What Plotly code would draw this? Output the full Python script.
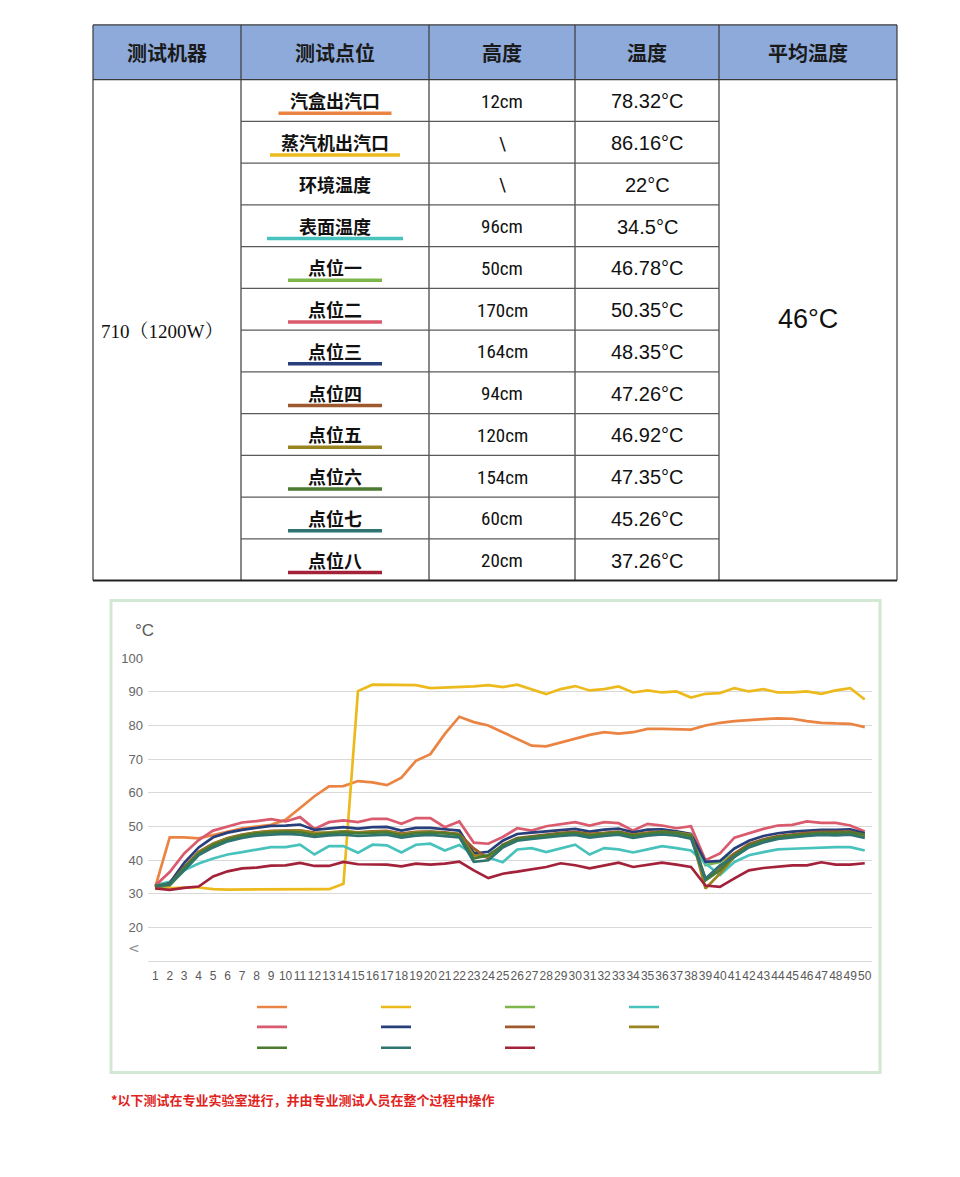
import plotly.graph_objects as go

W, H = 960, 1177

# ---------------- table data ----------------
header = ["测试机器", "测试点位", "高度", "温度", "平均温度"]
machine = "710（1200W）"
points = ["汽盒出汽口", "蒸汽机出汽口", "环境温度", "表面温度", "点位一", "点位二",
          "点位三", "点位四", "点位五", "点位六", "点位七", "点位八"]
heights = ["12cm", "\\", "\\", "96cm", "50cm", "170cm", "164cm", "94cm",
           "120cm", "154cm", "60cm", "20cm"]
temps = ["78.32°C", "86.16°C", "22°C", "34.5°C", "46.78°C", "50.35°C",
         "48.35°C", "47.26°C", "46.92°C", "47.35°C", "45.26°C", "37.26°C"]
avg_temp = "46°C"
footnote = "*以下测试在专业实验室进行，并由专业测试人员在整个过程中操作"

# ---------------- chart data ----------------
x_labels = [str(i) for i in range(1, 51)]
y_ticks = [10, 20, 30, 40, 50, 60, 70, 80, 90, 100]
y_ticktext = ["", "20", "30", "40", "50", "60", "70", "80", "90", "100"]

box_outlet = [32.0, 46.8, 46.8, 46.5, 47.5, 48.5, 49.5, 50.0, 50.5, 52.0,
              55.5, 59.0, 61.9, 62.0, 63.5, 63.1, 62.3, 64.5, 69.5, 71.5,
              77.5, 82.6, 81.0, 80.0, 78.0, 75.9, 74.0, 73.8, 75.0, 76.0,
              77.2, 78.0, 77.6, 78.0, 79.0, 79.0, 78.9, 78.8, 80.0, 80.8,
              81.3, 81.7, 81.9, 82.1, 82.0, 81.3, 80.8, 80.6, 80.5, 79.5]
engine_outlet = [31.5, 31.8, 31.9, 31.9, 31.4, 31.3, 31.3, 31.3, 31.3, 31.3,
                 31.3, 31.3, 31.4, 33.0, 90.2, 92.1, 92.1, 92.0, 92.0, 91.1,
                 91.2, 91.5, 91.6, 92.0, 91.4, 92.1, 90.8, 89.3, 90.8, 91.7,
                 90.4, 90.8, 91.6, 89.8, 90.4, 89.8, 90.1, 88.3, 89.4, 89.6,
                 91.1, 90.1, 90.8, 89.8, 89.8, 90.1, 89.4, 90.4, 91.1, 87.7]
point1 = [31.8, 32.5, 37.0, 41.5, 44.2, 46.0, 47.0, 47.8, 48.2, 48.4,
          48.6, 48.0, 48.2, 48.6, 48.2, 48.4, 48.5, 47.8, 48.3, 48.4,
          48.2, 47.8, 42.5, 40.8, 44.0, 46.0, 46.7, 47.2, 47.6, 47.9,
          47.5, 47.7, 48.0, 47.4, 47.8, 48.2, 47.9, 47.0, 38.5, 39.5,
          42.0, 44.2, 45.6, 46.6, 47.1, 47.5, 47.8, 47.9, 48.0, 47.0]
surface = [32.6, 33.6, 37.0, 39.0, 40.5, 41.7, 42.4, 43.2, 43.9, 43.9,
           44.6, 41.7, 44.2, 44.2, 42.2, 44.6, 44.4, 42.3, 44.6, 44.9,
           42.9, 44.5, 41.6, 40.8, 39.4, 43.2, 43.6, 42.4, 43.6, 44.6,
           41.7, 43.6, 43.2, 42.3, 43.2, 44.2, 43.6, 42.9, 39.0, 35.6,
           39.5, 41.5, 42.4, 43.2, 43.4, 43.6, 43.9, 43.9, 43.9, 42.9]
point2 = [32.5, 36.5, 42.0, 46.0, 48.8, 50.0, 51.2, 51.6, 52.2, 51.5,
          52.8, 49.3, 51.3, 51.8, 51.3, 52.3, 52.3, 50.8, 52.5, 52.5,
          49.8, 51.5, 45.2, 44.9, 46.9, 49.5, 48.8, 50.1, 50.8, 51.3,
          50.3, 51.3, 51.0, 48.8, 50.8, 50.3, 49.5, 50.1, 40.0, 42.0,
          46.7, 48.1, 49.3, 50.3, 50.5, 51.5, 51.1, 51.1, 50.3, 48.5]
point3 = [32.0, 33.2, 39.2, 43.8, 46.8, 48.2, 49.0, 49.7, 50.2, 50.3,
          50.6, 49.0, 49.4, 49.8, 49.4, 49.8, 49.9, 48.8, 49.6, 49.6,
          49.2, 48.8, 42.0, 42.5, 45.8, 47.8, 48.2, 48.6, 49.0, 49.3,
          48.5, 49.1, 49.4, 48.3, 49.1, 49.2, 48.6, 47.8, 39.5, 39.8,
          43.5, 45.8, 47.2, 48.0, 48.5, 48.8, 49.0, 49.0, 49.2, 48.0]
point4 = [32.0, 32.8, 38.0, 42.5, 45.0, 46.6, 47.6, 48.3, 48.7, 48.8,
          48.9, 48.2, 47.8, 48.6, 48.3, 48.6, 48.7, 47.9, 48.4, 48.5,
          48.3, 47.8, 43.5, 40.5, 44.6, 46.6, 47.1, 47.7, 48.1, 48.4,
          47.8, 48.1, 48.5, 47.6, 48.2, 48.5, 48.2, 47.5, 34.5, 38.0,
          42.0, 44.8, 46.2, 47.2, 47.7, 48.1, 48.4, 48.4, 48.5, 47.5]
point5 = [32.2, 32.6, 37.5, 42.2, 44.8, 46.4, 47.5, 48.2, 48.6, 48.7,
          48.8, 48.0, 48.2, 48.5, 48.2, 48.4, 48.6, 47.7, 48.3, 48.4,
          48.1, 47.6, 41.5, 41.0, 44.2, 46.2, 46.8, 47.4, 47.8, 48.0,
          47.6, 47.9, 48.2, 47.5, 48.0, 48.4, 48.2, 47.6, 31.6, 36.0,
          41.0, 44.0, 45.6, 46.8, 47.3, 47.7, 48.0, 48.0, 48.2, 47.2]
point6 = [32.5, 33.0, 37.8, 42.0, 44.5, 46.2, 47.3, 48.0, 48.3, 48.5,
          48.3, 47.5, 48.0, 48.3, 48.0, 48.2, 48.3, 47.4, 48.0, 48.2,
          48.0, 47.5, 40.5, 41.5, 44.4, 46.4, 46.9, 47.4, 47.8, 48.1,
          47.4, 47.8, 48.3, 47.3, 47.9, 48.4, 48.1, 47.2, 34.0, 37.0,
          41.5, 44.4, 45.9, 46.9, 47.4, 47.8, 48.1, 48.1, 48.3, 47.6]
point7 = [32.3, 32.8, 37.0, 41.5, 43.8, 45.6, 46.6, 47.3, 47.6, 47.8,
          47.6, 46.9, 47.4, 47.6, 47.2, 47.5, 47.6, 46.7, 47.3, 47.5,
          47.2, 46.8, 39.5, 40.0, 43.8, 45.8, 46.3, 46.8, 47.2, 47.5,
          46.7, 47.2, 47.6, 46.6, 47.3, 47.7, 47.3, 46.4, 34.5, 38.5,
          41.0, 43.8, 45.3, 46.3, 46.8, 47.2, 47.5, 47.4, 47.6, 46.6]
point8 = [31.6, 31.2, 31.8, 32.2, 35.2, 36.7, 37.6, 37.8, 38.4, 38.5,
          39.2, 38.3, 38.3, 39.5, 38.8, 38.8, 38.7, 38.2, 39.0, 38.7,
          39.0, 39.6, 37.0, 34.7, 36.0, 36.6, 37.3, 38.0, 39.1, 38.5,
          37.6, 38.5, 39.3, 38.0, 38.7, 39.3, 38.7, 38.0, 32.5, 32.1,
          34.6, 37.0, 37.7, 38.0, 38.5, 38.5, 39.4, 38.7, 38.7, 39.1]

# series in drawing / legend order (legend rows of 4, 4, 3)
series_names = ["汽盒出汽口", "蒸汽机出汽口", "点位一", "表面温度",
                "点位二", "点位三", "点位四", "点位五",
                "点位六", "点位七", "点位八"]
series_values = [box_outlet, engine_outlet, point1, surface,
                 point2, point3, point4, point5,
                 point6, point7, point8]
series_colors = ["#EB8442", "#EDBA1E", "#7DB64A", "#48C2BC",
                 "#DA5A6E", "#273F7A", "#9E5A2E", "#9A8420",
                 "#4B7A31", "#2E7470", "#A3223A"]
legend_groups = ["legend"] * 4 + ["legend2"] * 4 + ["legend3"] * 3


def X(p):
    return p / W


def Y(p):
    return 1 - p / H


fig = go.Figure()

for name, vals, col, lg in zip(series_names, series_values, series_colors, legend_groups):
    fig.add_trace(go.Scatter(
        x=list(range(1, 51)), y=vals, mode="lines", name="",
        line=dict(color=col, width=2.7), legend=lg,
        hovertemplate=name + ": %{y}<extra></extra>",
    ))

shapes = []
annotations = []

# ---------------- table ----------------
col_x = [93, 241, 429, 575, 719, 897]
top, head_bottom = 18, 73
row_h = 42
row_y = [head_bottom + k * row_h for k in range(len(points) + 1)]
bottom = row_y[-1]
line_col = "#3A3A3A"

shapes.append(dict(type="rect", xref="paper", yref="paper",
                   x0=X(col_x[0]), x1=X(col_x[-1]), y0=Y(head_bottom), y1=Y(top),
                   fillcolor="#8EAADB", line=dict(width=0), layer="below"))
for cx in col_x:
    shapes.append(dict(type="line", xref="paper", yref="paper",
                       x0=X(cx), x1=X(cx), y0=Y(bottom), y1=Y(top),
                       line=dict(color=line_col, width=1.2)))
for yy in (top, head_bottom):
    shapes.append(dict(type="line", xref="paper", yref="paper",
                       x0=X(col_x[0]), x1=X(col_x[-1]), y0=Y(yy), y1=Y(yy),
                       line=dict(color=line_col, width=1.2)))
shapes.append(dict(type="line", xref="paper", yref="paper",
                   x0=X(col_x[0]), x1=X(col_x[-1]), y0=Y(bottom), y1=Y(bottom),
                   line=dict(color="#222222", width=2)))
for yy in row_y[1:-1]:
    shapes.append(dict(type="line", xref="paper", yref="paper",
                       x0=X(col_x[1]), x1=X(col_x[4]), y0=Y(yy), y1=Y(yy),
                       line=dict(color="#5A5A5A", width=1.2)))

cjk = "Noto Sans CJK SC"
for i, htxt in enumerate(header):
    cx = (col_x[i] + col_x[i + 1]) / 2
    annotations.append(dict(text="<b>" + htxt + "</b>", x=X(cx), y=Y((top + head_bottom) / 2),
                            font=dict(family=cjk, size=20, color="#1A1A1A")))

underline_len = {"汽盒出汽口": 113, "蒸汽机出汽口": 130, "表面温度": 136}
color_of = dict(zip(series_names, series_colors))
for r, name in enumerate(points):
    yc = (row_y[r] + row_y[r + 1]) / 2
    cx2 = (col_x[1] + col_x[2]) / 2
    cx3 = (col_x[2] + col_x[3]) / 2
    cx4 = (col_x[3] + col_x[4]) / 2
    has_line = name in color_of
    annotations.append(dict(text="<b>" + name + "</b>", x=X(cx2), y=Y(yc),
                            font=dict(family=cjk, size=18, color="#111111")))
    if has_line:
        half = underline_len.get(name, 94) / 2
        shapes.append(dict(type="line", xref="paper", yref="paper",
                           x0=X(cx2 - half), x1=X(cx2 + half), y0=Y(yc + 13), y1=Y(yc + 13),
                           line=dict(color=color_of[name], width=3.5)))
    annotations.append(dict(text=heights[r], x=X(cx3), y=Y(yc + 1),
                            font=dict(family="Liberation Sans Narrow, Roboto Condensed, Liberation Sans, " + cjk,
                                      size=19, color="#111111")))
    annotations.append(dict(text=temps[r], x=X(cx4), y=Y(yc + 1),
                            font=dict(family="Liberation Sans, " + cjk, size=20, color="#111111")))

annotations.append(dict(text=machine, x=X((col_x[0] + col_x[1]) / 2 - 5), y=Y(326),
                        font=dict(family="Liberation Serif, Noto Serif CJK SC, " + cjk, size=19, color="#111111")))
annotations.append(dict(text=avg_temp, x=X((col_x[4] + col_x[5]) / 2), y=Y(314),
                        font=dict(family="Liberation Sans, Arial", size=27, color="#111111")))

# ---------------- chart frame ----------------
shapes.append(dict(type="rect", xref="paper", yref="paper",
                   x0=X(111), x1=X(880), y0=Y(1072), y1=Y(597),
                   line=dict(color="#D3E8D3", width=3), fillcolor="rgba(0,0,0,0)", layer="below"))
annotations.append(dict(text="°C", x=X(133), y=Y(627), xanchor="left",
                        font=dict(family="Liberation Sans, Arial", size=17, color="#595959")))
annotations.append(dict(text="<", x=X(134), y=Y(947),
                        font=dict(family="DejaVu Sans", size=14, color="#8C8C8C")))
annotations.append(dict(text="<b>" + footnote + "</b>", x=X(109), y=Y(1099), xanchor="left",
                        font=dict(family=cjk, size=13, color="#E0231C")))

for a in annotations:
    a.setdefault("xref", "paper")
    a.setdefault("yref", "paper")
    a.setdefault("showarrow", False)
    a.setdefault("xanchor", "center")
    a.setdefault("yanchor", "middle")

x_tick_font = dict(family="Liberation Sans, Arial", size=12, color="#595959")
y_tick_font = dict(family="Liberation Sans, Arial", size=13, color="#666666")
leg_common = dict(orientation="h", xanchor="left", yanchor="middle",
                  entrywidth=79, entrywidthmode="pixels", itemwidth=30,
                  bgcolor="rgba(0,0,0,0)", borderwidth=0, font=dict(size=10),
                  traceorder="normal", itemclick=False, itemdoubleclick=False)

fig.update_layout(
    width=W, height=H,
    margin=dict(l=0, r=0, t=0, b=0),
    paper_bgcolor="white", plot_bgcolor="white",
    showlegend=True,
    xaxis=dict(domain=[X(148), X(872)], range=[0.5, 50.5], tickmode="array",
               tickvals=list(range(1, 51)), ticktext=x_labels, tickangle=0,
               tickfont=x_tick_font, showgrid=False, showline=True, linecolor="#D9D9D9",
               zeroline=False, ticks="", ticklabelstandoff=3, fixedrange=True),
    yaxis=dict(domain=[Y(960), Y(655)], range=[10, 100], tickmode="array",
               tickvals=y_ticks, ticktext=y_ticktext, tickfont=y_tick_font,
               showgrid=True, gridcolor="#D9D9D9", gridwidth=1, zeroline=False,
               ticks="", showline=False, ticklabelstandoff=4, fixedrange=True),
    legend=dict(x=X(252), y=Y(1006), **leg_common),
    legend2=dict(x=X(252), y=Y(1026), **leg_common),
    legend3=dict(x=X(252), y=Y(1047), **leg_common),
    shapes=shapes,
    annotations=annotations,
)

fig.write_html("out.html")
